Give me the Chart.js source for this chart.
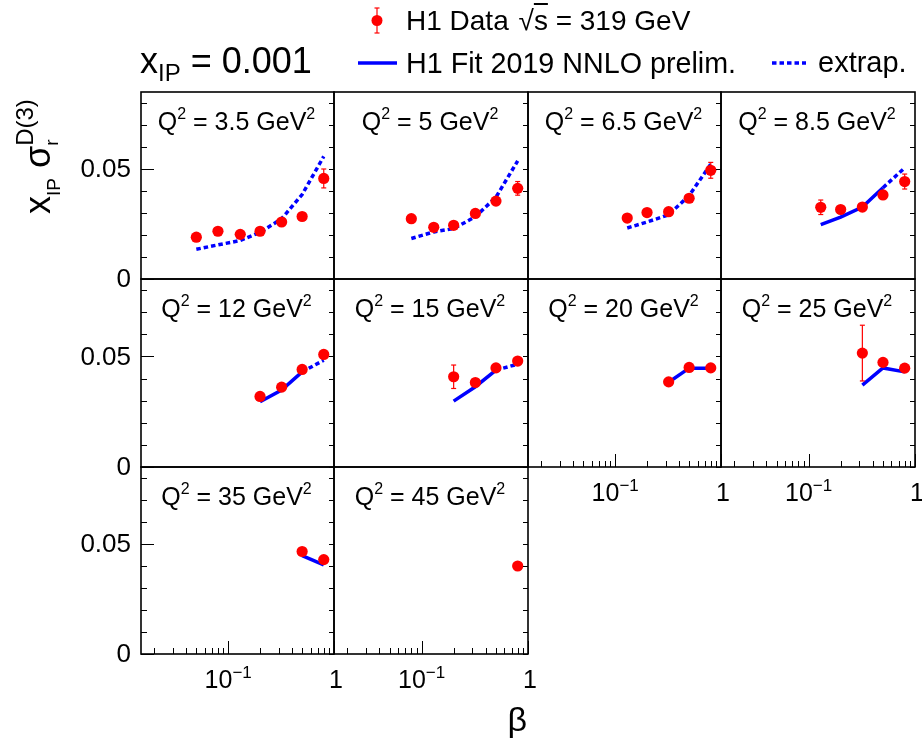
<!DOCTYPE html>
<html><head><meta charset="utf-8">
<script src="https://cdn.jsdelivr.net/npm/chart.js@4.4.1/dist/chart.umd.min.js"></script>
<style>
html,body{margin:0;padding:0;background:#fff;}
#wrap{position:relative;width:922px;height:744px;overflow:hidden;background:#fff;font-family:"Liberation Sans",Arial,Helvetica,sans-serif;color:#000;}
#wrap canvas{position:absolute;left:0;top:0;}
.t{position:absolute;white-space:nowrap;line-height:1;}
.t span{position:relative;}
</style></head>
<body><div id="wrap"></div>
<script>
// ---------------- data ----------------
const q2Labels = ['3.5', '5', '6.5', '8.5', '12', '15', '20', '25', '35', '45'];

const betaQ3p5 = [0.05, 0.08, 0.13, 0.2, 0.32, 0.5, 0.8];
const sigmaQ3p5 = [0.0190, 0.0217, 0.0203, 0.0217, 0.0259, 0.0284, 0.0457];
const errQ3p5 = [0.0011, 0.0006, 0.0006, 0.0006, 0.0006, 0.0006, 0.0043];
const fitQ3p5 = [0.0135, 0.0155, 0.0175, 0.0212, 0.0274, 0.0384, 0.0557];
const inFitQ3p5 = [0, 0, 0, 0, 0, 0, 0];

const betaQ5 = [0.08, 0.13, 0.2, 0.32, 0.5, 0.8];
const sigmaQ5 = [0.0274, 0.0235, 0.0244, 0.0298, 0.0354, 0.0412];
const errQ5 = [0.0006, 0.0006, 0.0006, 0.0006, 0.0006, 0.0031];
const fitQ5 = [0.0184, 0.0214, 0.0229, 0.0283, 0.0372, 0.0537];
const inFitQ5 = [0, 0, 0, 0, 0, 0];

const betaQ6p5 = [0.13, 0.2, 0.32, 0.5, 0.8];
const sigmaQ6p5 = [0.0277, 0.0302, 0.0306, 0.0367, 0.0494];
const errQ6p5 = [0.0006, 0.0006, 0.0006, 0.0006, 0.0036];
const fitQ6p5 = [0.0232, 0.0259, 0.0292, 0.0379, 0.0522];
const inFitQ6p5 = [0, 0, 0, 0, 0];

const betaQ8p5 = [0.13, 0.2, 0.32, 0.5, 0.8];
const sigmaQ8p5 = [0.0326, 0.0316, 0.0327, 0.0382, 0.0443];
const errQ8p5 = [0.0033, 0.0006, 0.0006, 0.0006, 0.0034];
const fitQ8p5 = [0.0247, 0.0281, 0.0327, 0.0415, 0.0505];
const inFitQ8p5 = [1, 1, 1, 1, 0];

const betaQ12 = [0.2, 0.32, 0.5, 0.8];
const sigmaQ12 = [0.0319, 0.0361, 0.0441, 0.0509];
const errQ12 = [0.0006, 0.0006, 0.0006, 0.0008];
const fitQ12 = [0.0295, 0.0348, 0.0430, 0.0483];
const inFitQ12 = [1, 1, 1, 0];

const betaQ15 = [0.2, 0.32, 0.5, 0.8];
const sigmaQ15 = [0.0408, 0.0382, 0.0448, 0.0479];
const errQ15 = [0.0053, 0.0006, 0.0006, 0.0008];
const fitQ15 = [0.0298, 0.0363, 0.0438, 0.0465];
const inFitQ15 = [1, 1, 1, 0];

const betaQ20 = [0.32, 0.5, 0.8];
const sigmaQ20 = [0.0385, 0.0450, 0.0448];
const errQ20 = [0.0006, 0.0006, 0.0008];
const fitQ20 = [0.0383, 0.0447, 0.0447];
const inFitQ20 = [1, 1, 1];

const betaQ25 = [0.32, 0.5, 0.8];
const sigmaQ25 = [0.0515, 0.0473, 0.0447];
const errQ25 = [0.0126, 0.0008, 0.0008];
const fitQ25 = [0.0370, 0.0448, 0.0430];
const inFitQ25 = [1, 1, 1];

const betaQ35 = [0.5, 0.8];
const sigmaQ35 = [0.0466, 0.0429];
const errQ35 = [0.0008, 0.0008];
const fitQ35 = [0.0447, 0.0405];
const inFitQ35 = [1, 1];

const betaQ45 = [0.8];
const sigmaQ45 = [0.0400];
const errQ45 = [0.0008];
const fitQ45 = [0.0398];
const inFitQ45 = [1];

// axis ranges and ticks
const xMin = 0.015, xMax = 1;
const yMin = 0, yMax = 0.085;
const yMinorTicks = [0, 0.01, 0.02, 0.03, 0.04, 0.05, 0.06, 0.07, 0.08];
const yMajorTicks = [0, 0.05];
const yTickLabels = ['0', '0.05'];
const xMinorTicks = [0.02, 0.03, 0.04, 0.05, 0.06, 0.07, 0.08, 0.09, 0.2, 0.3, 0.4, 0.5, 0.6, 0.7, 0.8, 0.9];
const xMajorTicks = [0.1, 1];
const xTickLabels = [['10', '\u22121'], ['1', '']];

// ---------------- layout ----------------
const W = 922, H = 744;
const colEdges = [141, 334, 528, 721, 915];
const rowEdges = [92, 279, 467, 654];
const FONT = '"Liberation Sans", Arial, Helvetica, sans-serif';
const RED = '#ff0000', BLUE = '#0000ff';

const PANELS = [
  [betaQ3p5, sigmaQ3p5, errQ3p5, fitQ3p5, inFitQ3p5],
  [betaQ5, sigmaQ5, errQ5, fitQ5, inFitQ5],
  [betaQ6p5, sigmaQ6p5, errQ6p5, fitQ6p5, inFitQ6p5],
  [betaQ8p5, sigmaQ8p5, errQ8p5, fitQ8p5, inFitQ8p5],
  [betaQ12, sigmaQ12, errQ12, fitQ12, inFitQ12],
  [betaQ15, sigmaQ15, errQ15, fitQ15, inFitQ15],
  [betaQ20, sigmaQ20, errQ20, fitQ20, inFitQ20],
  [betaQ25, sigmaQ25, errQ25, fitQ25, inFitQ25],
  [betaQ35, sigmaQ35, errQ35, fitQ35, inFitQ35],
  [betaQ45, sigmaQ45, errQ45, fitQ45, inFitQ45]
].map((a, i) => {
  const row = Math.floor(i / 4), col = i % 4;
  return { q: q2Labels[i], beta: a[0], val: a[1], err: a[2], fit: a[3], inFit: a[4], row, col,
    showY: col === 0, showX: row === 2 || (row === 1 && col >= 2) };
});

const wrap = document.getElementById('wrap');

function line(ctx, x1, y1, x2, y2) { ctx.beginPath(); ctx.moveTo(x1, y1); ctx.lineTo(x2, y2); ctx.stroke(); }

const panelPlugin = {
  id: 'panelDecor',
  beforeDatasetDraw(chart, args, opts) {
    if (args.index !== 0) return;
    const p = PANELS[opts.idx];
    const xs = chart.scales.x, ys = chart.scales.y, ctx = chart.ctx;
    ctx.save();
    ctx.strokeStyle = RED; ctx.lineWidth = 1.2;
    p.beta.forEach((b, i) => {
      const e = p.err[i];
      const px = xs.getPixelForValue(b);
      const y1 = ys.getPixelForValue(p.val[i] + e), y2 = ys.getPixelForValue(p.val[i] - e);
      line(ctx, px, y1, px, y2);
      line(ctx, px - 2.5, y1, px + 2.5, y1);
      line(ctx, px - 2.5, y2, px + 2.5, y2);
    });
    ctx.restore();
  },
  afterDraw(chart, args, opts) {
    const p = PANELS[opts.idx];
    const xs = chart.scales.x, ys = chart.scales.y, ctx = chart.ctx, ca = chart.chartArea;
    ctx.save();
    ctx.strokeStyle = '#000';
    ctx.lineWidth = 1.6;
    ctx.strokeRect(ca.left, ca.top, ca.right - ca.left, ca.bottom - ca.top);
    ctx.lineWidth = 1;
    yMinorTicks.forEach(v => {
      const py = Math.round(ys.getPixelForValue(v)) + 0.5;
      const major = yMajorTicks.some(m => Math.abs(m - v) < 1e-9);
      if (p.showY) line(ctx, ca.left, py, ca.left + (major ? 13 : 6), py);
      line(ctx, ca.right - 5, py, ca.right, py);
    });
    if (p.showX) {
      xMinorTicks.forEach(v => {
        const px = Math.round(xs.getPixelForValue(v)) + 0.5;
        line(ctx, px, ca.bottom, px, ca.bottom - 6);
      });
      xMajorTicks.forEach(v => {
        const px = Math.round(xs.getPixelForValue(v)) + 0.5;
        line(ctx, px, ca.bottom, px, ca.bottom - 13);
      });
      ctx.fillStyle = '#000';
      ctx.textBaseline = 'alphabetic';
      xMajorTicks.forEach((v, k) => {
        const px = xs.getPixelForValue(v);
        const [base, sup] = xTickLabels[k];
        ctx.font = '25px ' + FONT;
        const w1 = ctx.measureText(base).width;
        ctx.font = '17px ' + FONT;
        const w2 = sup ? ctx.measureText(sup).width : 0;
        const x0 = px - (w1 + w2) / 2 + (sup ? 0 : 2);
        const by = ca.bottom + 34;
        ctx.font = '25px ' + FONT;
        ctx.textAlign = 'left';
        ctx.fillText(base, x0, by);
        if (sup) { ctx.font = '17px ' + FONT; ctx.fillText(sup, x0 + w1, by - 10); }
      });
    }
    if (p.showY) {
      ctx.fillStyle = '#000';
      ctx.font = '26px ' + FONT;
      ctx.textAlign = 'right';
      ctx.textBaseline = 'middle';
      yMajorTicks.forEach((v, k) => {
        ctx.fillText(yTickLabels[k], ca.left - 10, ys.getPixelForValue(v) + 1);
      });
    }
    if (opts.idx === 0) {
      // legend keys of the header
      ctx.strokeStyle = RED; ctx.lineWidth = 1.2;
      line(ctx, 377, 8, 377, 33); line(ctx, 374.5, 8, 379.5, 8); line(ctx, 374.5, 33, 379.5, 33);
      ctx.fillStyle = RED; ctx.beginPath(); ctx.arc(377, 20.5, 5.5, 0, Math.PI * 2); ctx.fill();
      ctx.strokeStyle = BLUE; ctx.lineWidth = 3.5; ctx.lineCap = 'butt';
      line(ctx, 358, 63, 397, 63);
      ctx.setLineDash([4.5, 3]);
      line(ctx, 772, 63, 806, 63);
      ctx.setLineDash([]);
    }
    ctx.restore();
  }
};

PANELS.forEach((p, idx) => {
  const cv = document.createElement('canvas');
  cv.width = W; cv.height = H;
  wrap.appendChild(cv);
  const left = colEdges[p.col], right = colEdges[p.col + 1], top = rowEdges[p.row], bottom = rowEdges[p.row + 1];
  const inFit = p.inFit;
  new Chart(cv, {
    type: 'scatter',
    data: {
      datasets: [
        { label: 'H1 Data', data: p.beta.map((b, i) => ({ x: b, y: p.val[i] })),
          pointRadius: 5.6, pointHoverRadius: 5.6, pointBackgroundColor: RED, pointBorderWidth: 0, showLine: false },
        { label: 'H1 Fit 2019 NNLO prelim.', data: p.beta.map((b, i) => ({ x: b, y: p.fit[i] })),
          showLine: true, pointRadius: 0, borderColor: BLUE, borderWidth: 3.5, borderCapStyle: 'butt',
          segment: { borderDash: c => (inFit[c.p0DataIndex] && inFit[c.p1DataIndex]) ? [] : [4.5, 3] } }
      ]
    },
    options: {
      responsive: false, animation: false, devicePixelRatio: 1, events: [],
      layout: { padding: { left: left, right: W - right, top: top, bottom: H - bottom } },
      scales: {
        x: { type: 'logarithmic', min: xMin, max: xMax, display: false },
        y: { type: 'linear', min: yMin, max: yMax, display: false }
      },
      plugins: { legend: { display: false }, tooltip: { enabled: false }, panelDecor: { idx } }
    },
    plugins: [panelPlugin]
  });
});

// ---------------- texts ----------------
function addText(html, x, baseline, fs, align) {
  const d = document.createElement('div');
  d.className = 't'; d.style.fontSize = fs + 'px'; d.innerHTML = html;
  d.style.top = (baseline - 0.8465 * fs) + 'px';
  if (align === 'center') { d.style.left = x + 'px'; d.style.transform = 'translateX(-50%)'; }
  else if (align === 'right') { d.style.right = (W - x) + 'px'; }
  else d.style.left = x + 'px';
  wrap.appendChild(d);
  return d;
}
const sup = (s, fs, dy) => `<span style="font-size:${fs}px;top:${-dy}px">${s}</span>`;
const sub = (s, fs, dy) => `<span style="font-size:${fs}px;top:${dy}px">${s}</span>`;

addText(`H1 Data <span style="margin-left:2px">\u221A</span><span style="text-decoration:overline">s</span> = 319 GeV`, 406, 31, 28, 'left');
addText(`x${sub('IP', 24, 8)} = 0.001`, 140, 73, 36, 'left');
addText('H1 Fit 2019 NNLO prelim.', 406, 73, 28.7, 'left');
addText('extrap.', 818, 73, 29, 'left');

PANELS.forEach(p => {
  const cx = (colEdges[p.col] + colEdges[p.col + 1]) / 2 - 1;
  addText(`Q${sup('2', 16, 11)} = ${p.q} GeV${sup('2', 16, 11)}`, cx, rowEdges[p.row] + 38, 25, 'center');
});

// y-axis title (rotated)
const yt = document.createElement('div');
yt.className = 't';
yt.style.fontSize = '36px';
yt.style.left = (50 - 0.8465 * 36) + 'px';
yt.style.top = '214px';
yt.style.transformOrigin = '0 0';
yt.style.transform = 'rotate(-90deg)';
yt.innerHTML = `x${sub('IP', 19, 10)} \u03C3<span style="display:inline-block;width:0;font-size:19px;top:8px">r</span>${sup('D(3)', 24, 17)}`;
wrap.appendChild(yt);

addText('\u03B2', 527, 731, 34, 'right');
</script></body></html>
